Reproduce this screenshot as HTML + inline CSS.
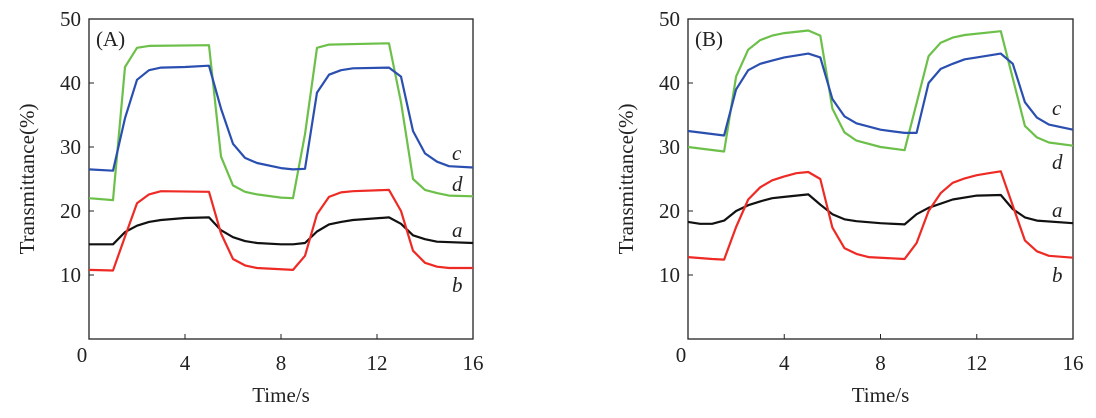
<!DOCTYPE html>
<html><head><meta charset="utf-8"><style>
body{margin:0;background:#fff;}
svg{display:block;font-family:"Liberation Serif",serif;}
</style></head><body>
<svg id="chart" width="1096" height="418"></svg>
<script>
// Panel A data
const aT_c=[0,1,1.5,2,2.5,3,4,5,5.5,6,6.5,7,8,8.5,9,9.5,10,10.5,11,12.5,13,13.5,14,14.5,15,16];
const aV_c=[26.5,26.3,34.5,40.5,42,42.4,42.5,42.7,36,30.5,28.3,27.5,26.7,26.5,26.6,38.5,41.3,42,42.3,42.4,41,32.5,29,27.7,27,26.8];
const aT_d=[0,1,1.5,2,2.5,5,5.5,6,6.5,7,8,8.5,9,9.5,10,12.5,13,13.5,14,14.5,15,16];
const aV_d=[22,21.7,42.5,45.5,45.8,45.9,28.5,24,23,22.6,22.1,22,32,45.5,46,46.2,37,25,23.3,22.8,22.4,22.3];
const aT_b=[0,1,1.5,2,2.5,3,5,5.5,6,6.5,7,8.5,9,9.5,10,10.5,11,12.5,13,13.5,14,14.5,15,16];
const aV_b=[10.8,10.7,16,21.2,22.6,23.1,23,16.5,12.5,11.5,11.1,10.8,13,19.5,22.2,22.9,23.1,23.3,20,13.8,11.9,11.3,11.1,11.1];
const aT_a=[0,1,1.5,2,2.5,3,4,5,5.5,6,6.5,7,8,8.5,9,9.5,10,10.5,11,12.5,13,13.5,14,14.5,16];
const aV_a=[14.8,14.8,16.7,17.7,18.3,18.6,18.9,19,17,15.9,15.3,15,14.8,14.8,15,16.8,17.9,18.3,18.6,19,18,16.2,15.6,15.2,15];
// Panel B data
const bT_c=[0,1.5,2,2.5,3,3.5,4,5,5.5,6,6.5,7,8,9,9.5,10,10.5,11,11.5,12,13,13.5,14,14.5,15,16];
const bV_c=[32.5,31.8,39,42,43,43.5,44,44.6,44,37.5,34.8,33.7,32.7,32.2,32.2,40,42.2,43,43.7,44,44.6,43,37,34.6,33.5,32.7];
const bT_d=[0,1.5,2,2.5,3,3.5,4,5,5.5,6,6.5,7,8,9,10,10.5,11,11.5,13,14,14.5,15,16];
const bV_d=[30,29.3,41,45.2,46.7,47.4,47.8,48.2,47.4,36,32.3,31,30,29.5,44.2,46.3,47.1,47.5,48.1,33.3,31.5,30.7,30.2];
const bT_b=[0,1,1.5,2,2.5,3,3.5,4,4.5,5,5.5,6,6.5,7,7.5,9,9.5,10,10.5,11,11.5,12,12.5,13,14,14.5,15,16];
const bV_b=[12.8,12.5,12.4,17.5,21.8,23.7,24.8,25.4,25.9,26.1,25,17.4,14.2,13.3,12.8,12.5,15,20,22.8,24.4,25.1,25.6,25.9,26.2,15.4,13.7,13,12.7];
const bT_a=[0,0.5,1,1.5,2,2.5,3,3.5,4,5,5.5,6,6.5,7,8,9,9.5,10,11,12,13,13.5,14,14.5,16];
const bV_a=[18.3,18,18,18.5,20,20.9,21.5,22,22.2,22.6,21,19.5,18.7,18.4,18.1,17.9,19.5,20.5,21.8,22.4,22.5,20.3,19,18.5,18.1];
const xTicks=[0,4,8,12,16];
const yTicks=[10,20,30,40,50];

const NS="http://www.w3.org/2000/svg";
const svg=document.getElementById('chart');
function mk(tag,attrs,parent){const e=document.createElementNS(NS,tag);for(const k in attrs)e.setAttribute(k,attrs[k]);(parent||svg).appendChild(e);return e;}

function panel(x0,x1,label,series,labels,id){
  const y0=339,y1=19;
  const xs=t=>x0+(x1-x0)*t/16, ys=v=>y0-(y0-y1)*v/50;
  const g=mk('g',{});
  
  
  const fr=mk('rect',{x:x0,y:y1,width:x1-x0,height:y0-y1,fill:'none',stroke:'#222','stroke-width':1.3},g);
  
  
  xTicks.forEach(t=>{
    if(t>0&&t<16){const l=mk('line',{x1:xs(t),x2:xs(t),y1:y0,y2:y0-5,stroke:'#222'},g);
    }
    const tx=mk('text',{x:t===0?xs(t)-7:xs(t),y:t===0?362:370,'text-anchor':'middle','font-size':21,fill:'#222'},g);
    tx.textContent=t;
    
    
  });
  yTicks.forEach(v=>{
    const l=mk('line',{x1:x0,x2:x0+5,y1:ys(v),y2:ys(v),stroke:'#222'},g);
    
    const tx=mk('text',{x:x0-8,y:ys(v)+7,'text-anchor':'end','font-size':21,fill:'#222'},g);
    tx.textContent=v;
    
    
  });
  const xt=mk('text',{x:(x0+x1)/2,y:402,'text-anchor':'middle','font-size':21,fill:'#222'},g);
  xt.textContent='Time/s';
  
  
  const yt=mk('text',{x:0,y:0,'text-anchor':'middle','font-size':21,fill:'#222',transform:`translate(${x0-55},${(y0+y1)/2}) rotate(-90)`},g);
  yt.textContent='Transmittance(%)';
  
  
  const pl=mk('text',{x:x0+7,y:46,'font-size':21,fill:'#222'},g);
  pl.textContent=label;
  
  
  series.forEach(s=>{
    const d=s.t.map((t,i)=>(i?'L':'M')+xs(t).toFixed(1)+','+ys(s.v[i]).toFixed(1)).join(' ');
    const p=mk('path',{d:d,fill:'none',stroke:s.c,'stroke-width':2.2,'stroke-linejoin':'round'},g);
    
    
  });
  labels.forEach(l=>{
    const tx=mk('text',{x:x1-21,y:l[1],'font-size':21,'font-style':'italic',fill:'#222'},g);
    tx.textContent=l[0];
    
    
  });
}
panel(89,473,'(A)',[
 {n:'a',t:aT_a,v:aV_a,c:'#111'},{n:'b',t:aT_b,v:aV_b,c:'#ee2a24'},
 {n:'d',t:aT_d,v:aV_d,c:'#6cc04a'},{n:'c',t:aT_c,v:aV_c,c:'#2a4fb0'}],
 [['c',160],['d',191],['a',237],['b',292]],'a');
panel(688,1073,'(B)',[
 {n:'a',t:bT_a,v:bV_a,c:'#111'},{n:'b',t:bT_b,v:bV_b,c:'#ee2a24'},
 {n:'d',t:bT_d,v:bV_d,c:'#6cc04a'},{n:'c',t:bT_c,v:bV_c,c:'#2a4fb0'}],
 [['c',115],['d',169],['a',217],['b',282]],'b');
</script>
</body></html>
